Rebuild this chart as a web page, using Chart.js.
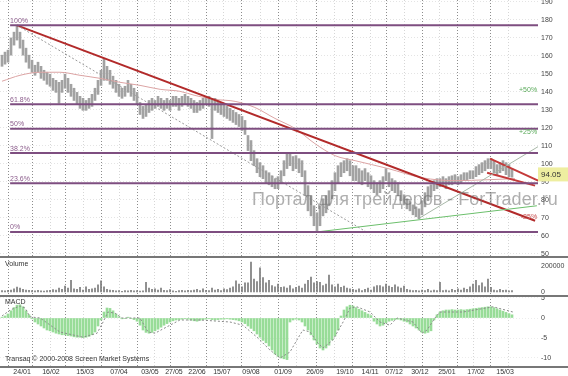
<!DOCTYPE html>
<html>
<head>
<meta charset="utf-8">
<script src="https://cdn.jsdelivr.net/npm/chart.js@4"></script>
<style>
  body { margin: 0; background: #fff; width: 568px; height: 376px; overflow: hidden; position: relative; font-family: "Liberation Sans", Arial, sans-serif; }
  canvas { position: absolute; left: 0; }
  .sep { position: absolute; left: 0; width: 568px; height: 2px; background: #777; }
  .lbl { position: absolute; font-size: 7px; color: #333; white-space: nowrap; }
  .wm { position: absolute; left: 252px; top: 188px; font-size: 18px; line-height: 22px; color: rgba(110,110,110,0.55); white-space: nowrap; pointer-events: none; }
</style>
</head>
<body>
<canvas id="price" width="568" height="257" style="top:0"></canvas>
<canvas id="volume" width="568" height="39" style="top:257px"></canvas>
<canvas id="macd" width="568" height="80" style="top:296px"></canvas>
<div class="sep" style="top:256px"></div>
<div class="sep" style="top:295px"></div>
<div class="sep" style="top:366px"></div>
<div class="lbl" style="left:5px;top:260px">Volume</div>
<div class="lbl" style="left:5px;top:298px">MACD</div>
<div class="lbl" style="left:5px;top:355px">Transaq © 2000-2008 Screen Market Systems</div>
<div class="wm">Портал для трейдеров - ForTrader.ru</div>
<script>
// daily bars, one per index
const highs = [160.4,162.1,163.2,170.0,173.2,177.0,173.2,168.8,164.3,160.4,
  157.6,154.8,156.5,154.2,152.0,150.9,149.8,147.5,146.4,145.3,
  146.4,149.8,147.5,144.2,142.0,139.7,137.5,136.4,135.2,136.4,
  138.6,142.0,146.4,152.0,158.7,154.2,152.0,148.7,146.4,144.2,
  142.0,143.1,146.4,144.2,142.0,139.7,134.1,131.9,133.0,135.2,
  136.4,135.2,137.5,136.4,135.2,136.4,135.2,137.5,137.5,136.4,
  137.5,138.6,137.5,136.4,135.2,134.1,135.2,136.4,137.5,137.5,
  136.4,136.4,135.2,134.1,133.0,131.9,130.8,129.7,128.5,127.4,
  126.3,124.1,115.7,112.9,107.3,102.8,100.6,98.9,96.1,95.0,
  93.3,91.7,92.8,96.1,101.7,106.2,105.6,104.0,104.5,102.8,
  101.7,96.1,87.8,82.2,76.6,72.7,76.6,80.5,82.2,85.0,
  90.6,95.0,98.9,100.6,101.7,102.8,101.7,98.9,98.9,97.3,
  96.1,97.3,95.0,93.3,90.6,89.4,90.6,92.8,97.3,95.0,
  91.7,90.6,89.4,85.0,82.7,80.5,79.4,77.1,76.0,74.9,
  79.4,83.9,87.2,88.3,90.6,91.7,91.7,92.8,91.7,92.8,
  93.3,93.9,92.8,93.9,95.0,95.0,96.1,96.1,98.4,99.5,
  100.6,101.7,102.8,103.0,101.7,99.5,100.6,101.7,100.6,99.5,
  97.3];
const lows = [154.2,155.4,156.5,160.4,166.0,168.8,164.3,160.4,156.5,153.1,
  150.9,149.2,150.9,147.5,146.4,144.2,143.1,140.8,139.7,133.6,
  139.7,142.0,139.7,137.5,135.2,133.0,130.8,129.7,129.7,130.8,
  131.9,135.2,138.6,143.6,146.4,146.4,144.2,142.0,139.7,137.5,
  136.4,137.5,139.7,137.5,135.2,133.0,127.4,125.2,126.3,128.5,
  129.7,130.8,131.9,130.8,129.7,130.8,129.7,131.9,131.9,129.7,
  131.9,133.0,131.9,130.8,128.5,128.5,129.7,130.8,133.0,131.9,
  114.0,129.7,128.5,127.4,126.3,125.2,124.1,123.0,121.8,120.7,
  118.5,116.3,107.3,101.7,98.9,95.0,92.8,91.7,89.4,88.3,
  87.2,86.1,86.1,89.4,93.3,97.3,98.9,96.1,97.3,95.0,
  92.8,82.2,73.8,71.0,65.5,62.0,65.5,71.0,72.7,76.6,
  80.5,85.0,89.4,92.8,95.0,96.1,93.3,90.6,90.6,89.4,
  88.3,90.6,87.2,86.1,83.9,82.7,83.9,86.1,90.6,87.2,
  85.0,83.9,82.2,79.4,77.1,74.9,73.8,71.6,70.5,69.4,
  71.6,76.0,79.4,81.6,85.0,86.1,87.2,87.2,86.1,88.3,
  88.3,89.4,88.3,89.4,90.6,90.6,91.7,91.7,92.8,93.9,
  95.0,96.1,97.3,97.3,95.0,93.9,95.0,96.1,93.9,92.8,
  92.5];
const lastPrice = 94.05;

const volumes = [10000,8000,12000,15000,25000,38000,30000,20000,15000,12000,
  10000,8000,12000,9000,7000,10000,12000,18000,15000,30000,
  20000,45000,30000,90000,25000,20000,35000,15000,40000,20000,
  25000,30000,55000,85000,40000,20000,15000,12000,8000,10000,
  6000,10000,8000,12000,9000,10000,7000,8000,75000,30000,
  20000,25000,15000,30000,12000,10000,18000,8000,6000,10000,
  12000,8000,12000,10000,15000,20000,10000,25000,12000,10000,
  30000,15000,20000,10000,25000,18000,30000,40000,85000,60000,
  40000,70000,70000,230000,100000,80000,185000,110000,70000,90000,
  50000,40000,60000,35000,40000,30000,50000,25000,35000,45000,
  30000,60000,90000,115000,70000,80000,75000,50000,60000,130000,
  55000,40000,60000,35000,45000,30000,25000,20000,15000,25000,
  10000,20000,30000,15000,40000,50000,50000,40000,60000,45000,
  35000,55000,40000,30000,45000,20000,15000,10000,12000,8000,
  15000,10000,20000,8000,15000,10000,75000,10000,15000,8000,
  20000,12000,25000,15000,30000,20000,40000,60000,90000,50000,
  70000,40000,100000,35000,15000,10000,20000,12000,15000,8000,
  10000];

const macdHist = [0.2,0.5,1.0,1.8,2.6,3.2,3.3,2.8,1.8,0.8,
  -0.2,-1.0,-1.5,-2.0,-2.5,-3.0,-3.2,-3.5,-3.8,-4.0,
  -4.2,-4.2,-4.4,-4.5,-4.7,-4.8,-4.8,-4.9,-4.8,-4.6,
  -4.2,-3.5,-2.0,-0.5,1.5,2.5,2.4,1.8,1.0,0.3,
  -0.2,-0.1,0.2,-0.1,-0.4,-0.8,-1.8,-3.0,-3.6,-3.8,
  -3.6,-3.2,-2.8,-2.3,-1.8,-1.4,-1.0,-0.7,-0.5,-0.4,
  -0.3,-0.2,-0.3,-0.5,-0.7,-0.8,-0.6,-0.4,-0.3,-0.2,
  -0.4,-0.5,-0.4,-0.3,-0.3,-0.2,-0.3,-0.4,-0.5,-0.7,
  -1.0,-1.4,-2.0,-2.6,-3.2,-4.0,-4.8,-5.6,-6.2,-7.0,
  -8.0,-9.0,-9.6,-10.0,-10.2,-10.4,-1.0,-0.5,-0.3,-0.5,
  -1.0,-2.0,-3.0,-4.2,-5.5,-6.5,-7.5,-8.0,-7.5,-6.8,
  -5.5,-4.5,-3.0,0.5,2.0,2.8,3.2,3.0,2.6,2.2,
  1.8,1.4,1.0,0.6,-0.8,-1.5,-2.0,-1.8,-1.2,-0.8,
  -0.6,-0.4,-0.3,-0.5,-0.8,-1.0,-1.5,-2.0,-2.5,-3.0,
  -3.6,-3.8,-3.6,-3.2,-0.5,0.8,1.5,1.8,2.0,2.0,
  2.1,2.0,2.0,2.1,2.0,2.1,2.2,2.3,2.4,2.5,
  2.6,2.7,2.8,2.8,2.6,2.3,2.0,1.7,1.4,1.1,
  0.8];

// dotted signal line, read at its turning points
const signalAt  = [0,2.7,6,7.7,9.3,12.7,19.3,27,31.7,33.7,35.3,37.7,40,46,48.7,51,55,59.3,66,76,80.3,85,89.3,92.7,96,98.3,100.3,102.7,105,107,110.3,113.7,116,118.3,122.7,126,129.3,131.7,137,140,141.7,144.3,146,153.7,163.7,170.3];
const signalVal = [0.5,2.0,3.0,2.5,0.3,0,-3.5,-4.8,-3.8,-1,1.5,1.2,0,0,-3.5,-3.8,-2.2,-0.5,-0.5,-1.0,-1.8,-4.8,-8,-10,-8.5,-5.5,-3,-3.5,-6,-7.5,-5.5,-1,2.5,2.8,1.5,-1,-1.8,0,-1,-3.8,-3,0,1.5,1.5,2.8,1.5];

// long moving average (thin pink)
const maAt  = [0,6,12.7,19.3,26,32.7,39.3,46,52.7,59.3,64.3,71,77.7,84.3,91,97.7,104.3,111,117.7,128.7,140,151,162,171];
const maVal = [145.9,149.2,150.9,150.9,149.2,147.5,145.3,143.6,141.4,140.3,138.0,135.8,134.7,131.3,125.2,119.6,111.2,104.5,101.7,97.3,92.2,90.6,91.1,91.7];

// fibonacci retracement 62 -> 177
const fibLevels = [177, 133.1, 119.5, 105.9, 89.1, 62];
const fibNames  = ['100%', '61.8%', '50%', '38.2%', '23.6%', '0%'];

// drawn lines: [[x0, y0], [x1, y1]]
const trendMain   = [[5, 177], [177.7, 68.3]];
const trendDotted = [[5, 177], [122, 61.5]];
const channelTop  = [[162.7, 102.8], [178.7, 90.6]];
const channelLow  = [[161.7, 95.0], [177.7, 87.8]];
const supportLong = [[105.3, 62.1], [178.3, 76.6]];
const supportUp   = [[139.3, 69.9], [179.3, 110.1]];

// percent targets from last price
const targetLevels = [141, 117.6, 70.5, 47];
const targetNames  = ['+50%', '+25%', '-25%', '-50%'];
const targetColors = ['#5aaa5a', '#5aaa5a', '#c85050', '#999'];

const priceTicks  = [190, 180, 170, 160, 150, 140, 130, 120, 110, 100, 90, 80, 70, 60, 50];
const volumeTicks = [0, 200000];
const macdTicks   = [5, 0, -5, -10];

const gridMajorAt = [2, 10.3, 21.3, 33.3, 45, 56.3, 68, 79.7, 92.3, 104.7, 116.7, 128.3, 140.3, 151.7, 163];
const gridMinorAt = [16, 27.3, 39.3, 50.7, 62.3, 73.7, 86, 98.3, 110.7, 122.7, 134.3, 146, 157.3, 168.7];
const xLabels  = ['24/01','16/02','15/03','07/04','03/05','27/05','22/06','15/07','09/08','01/09','26/09','19/10','14/11','07/12','30/12','25/01','17/02','15/03'];
const xLabelAt = [6.7, 16.3, 27.7, 39, 49.3, 57.3, 65, 73.3, 83, 93.7, 104.3, 114.3, 122.7, 130.7, 139.3, 148.3, 158, 167.7];

const xMin = -0.67, xMax = 178.67;
const FONT = '"Liberation Sans", Arial, sans-serif';

Chart.defaults.font.family = FONT;
Chart.defaults.font.size = 7;
Chart.defaults.color = '#444';
Chart.defaults.animation = false;

function gridAxis(at, color) {
    return {
        type: 'linear', min: xMin, max: xMax, offset: false, position: 'bottom',
        afterBuildTicks: a => { a.ticks = at.map(v => ({ value: v })); },
        ticks: { display: false },
        grid: { color: color, drawTicks: false, offset: false },
        border: { display: false, dash: [1, 2] },
        afterFit: s => { s.height = 0; s.paddingLeft = 0; s.paddingRight = 0; }
    };
}

function yAxis(min, max, at, gridColor) {
    return {
        position: 'right', min: min, max: max,
        afterBuildTicks: a => { a.ticks = at.map(v => ({ value: v })); },
        ticks: { padding: 3, color: '#444', font: { size: 7 }, callback: v => String(v) },
        grid: { display: !!gridColor, color: gridColor || '#fff', drawTicks: false },
        border: { display: false, dash: [1, 2] },
        afterFit: s => { s.width = 30; s.paddingTop = 0; s.paddingBottom = 0; }
    };
}

function segment(pts, color, width, dash) {
    return {
        type: 'line', order: 1,
        data: pts.map(p => ({ x: p[0], y: p[1] })),
        borderColor: color, borderWidth: width, borderDash: dash || [],
        pointRadius: 0, fill: false
    };
}

// draws text notes through the scales
function notesPlugin(items) {
    return {
        id: 'notes',
        afterDatasetsDraw(chart) {
            const ctx = chart.ctx;
            const xs = chart.scales.x, ys = chart.scales.y;
            ctx.save();
            items.forEach(n => {
                const px = xs.getPixelForValue(n.x);
                const py = ys.getPixelForValue(n.y);
                ctx.font = (n.size || 7) + 'px ' + FONT;
                if (n.box) {
                    ctx.fillStyle = n.box;
                    ctx.fillRect(chart.chartArea.right, py - 7, 30, 14);
                }
                ctx.fillStyle = n.color;
                ctx.textAlign = n.align;
                ctx.textBaseline = n.base;
                ctx.fillText(n.text, n.box ? chart.chartArea.right + 3 : px, py + (n.dy || 0));
            });
            ctx.restore();
        }
    };
}

// date labels under the MACD pane, placed by the x scale
const dateLabels = {
    id: 'dateLabels',
    afterDraw(chart) {
        const ctx = chart.ctx;
        const xs = chart.scales.x;
        ctx.save();
        ctx.font = '7px ' + FONT;
        ctx.fillStyle = '#333';
        ctx.textAlign = 'center';
        ctx.textBaseline = 'middle';
        xLabels.forEach((t, i) => {
            ctx.fillText(t, xs.getPixelForValue(xLabelAt[i]), chart.chartArea.bottom + 5);
        });
        ctx.restore();
    }
};

const priceNotes = fibNames.map((t, i) => ({ text: t, x: 2.7, y: fibLevels[i], color: '#8a5a8a', align: 'left', base: 'bottom', dy: -1 }))
    .concat(targetNames.map((t, i) => ({ text: t, x: xMax - 0.3, y: targetLevels[i], color: targetColors[i], align: 'right', base: 'middle' })))
    .concat([{ text: lastPrice.toFixed(2), x: xMax, y: lastPrice, color: '#333', align: 'left', base: 'middle', box: '#eeeea0', size: 8 }]);

const priceSets = [
    {
        type: 'bar', order: 10,
        data: highs.map((h, i) => ({ x: i, y: [lows[i], h] })),
        backgroundColor: '#a2a2a2', barThickness: 2
    },
    {
        type: 'line', order: 5,
        data: maAt.map((x, i) => ({ x: x, y: maVal[i] })),
        borderColor: '#dca4a4', borderWidth: 1, pointRadius: 0, fill: false,
        cubicInterpolationMode: 'monotone'
    }
];
fibLevels.forEach(l => priceSets.push(segment([[2.7, l], [xMax, l]], '#7e4e80', 2)));
priceSets.push(segment(trendDotted, '#9a9a9a', 1, [2, 2]));
priceSets.push(segment(supportLong, '#6cbf6c', 1));
priceSets.push(segment(supportUp, '#a8b8a8', 1));
priceSets.push(segment(trendMain, '#b22a2a', 2));
priceSets.push(segment(channelTop, '#c43a3a', 2));
priceSets.push(segment(channelLow, '#c43a3a', 2));

new Chart(document.getElementById('price'), {
    type: 'bar',
    data: { datasets: priceSets },
    options: {
        responsive: false,
        layout: { padding: 0 },
        plugins: { legend: { display: false }, tooltip: { enabled: false } },
        scales: {
            x: gridAxis(gridMajorAt, '#8c8c8c'),
            xl: gridAxis(gridMinorAt, '#d6d6d6'),
            y: yAxis(48.1, 191.1, priceTicks, '#e4e4e4')
        }
    },
    plugins: [notesPlugin(priceNotes)]
});

new Chart(document.getElementById('volume'), {
    type: 'bar',
    data: {
        datasets: [{
            data: volumes.map((v, i) => ({ x: i, y: v })),
            backgroundColor: '#7a7a7a', barThickness: 1
        }]
    },
    options: {
        responsive: false,
        layout: { padding: 0 },
        plugins: { legend: { display: false }, tooltip: { enabled: false } },
        scales: {
            x: gridAxis(gridMajorAt, '#8c8c8c'),
            xl: gridAxis(gridMinorAt, '#d6d6d6'),
            y: yAxis(-30800, 269000, volumeTicks, null)
        }
    }
});

new Chart(document.getElementById('macd'), {
    type: 'bar',
    data: {
        datasets: [
            {
                type: 'bar', order: 10,
                data: macdHist.map((v, i) => ({ x: i, y: v })),
                backgroundColor: '#98dc98', barThickness: 2
            },
            {
                type: 'line', order: 1,
                data: signalAt.map((x, i) => ({ x: x, y: signalVal[i] })),
                borderColor: '#8a8a8a', borderWidth: 1, borderDash: [2, 2],
                pointRadius: 0, fill: false
            }
        ]
    },
    options: {
        responsive: false,
        layout: { padding: { bottom: 9 } },
        plugins: { legend: { display: false }, tooltip: { enabled: false } },
        scales: {
            x: gridAxis(gridMajorAt, '#8c8c8c'),
            xl: gridAxis(gridMinorAt, '#d6d6d6'),
            y: yAxis(-12.25, 5.5, macdTicks, '#ececec')
        }
    },
    plugins: [dateLabels]
});
</script>
</body>
</html>
